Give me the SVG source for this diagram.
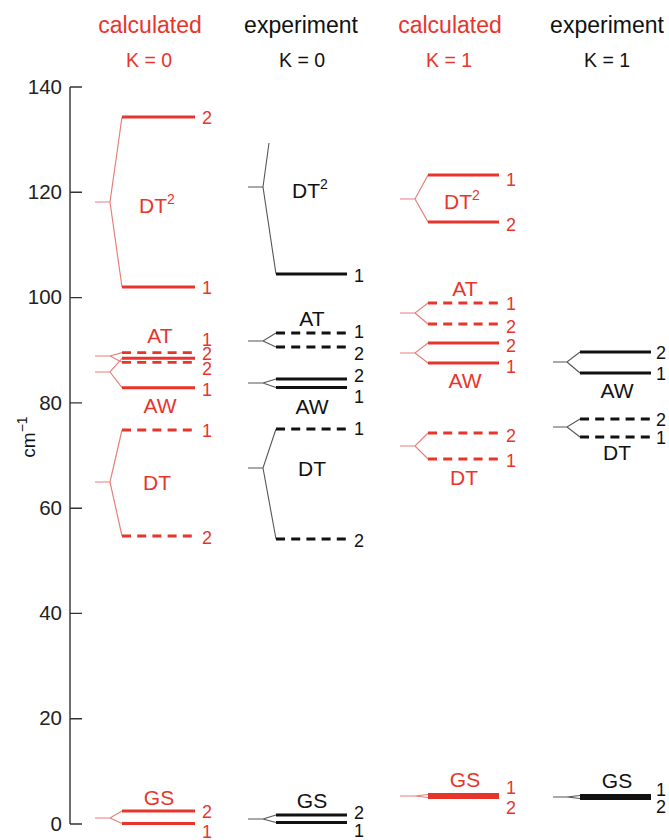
<svg xmlns="http://www.w3.org/2000/svg" width="669" height="840" viewBox="0 0 669 840">
  <style>
    text { font-family: "Liberation Sans", Arial, sans-serif; }
    .hdr { font-size: 23px; text-anchor: middle; }
    .k { font-size: 19.5px; text-anchor: middle; }
    .tick { font-size: 20.5px; text-anchor: end; fill: #222; }
    .st { font-size: 21px; text-anchor: middle; }
    .n { font-size: 18px; }
    .red { fill: #e8352c; }
    .blk { fill: #111; }
    .axis { stroke: #333; stroke-width: 1.4; fill: none; }
    .lvR { stroke: #e8352c; stroke-width: 3; fill: none; }
    .lvRd { stroke: #e8352c; stroke-width: 2.8; fill: none; stroke-dasharray: 9 6.2; }
    .lvB { stroke: #111; stroke-width: 3.2; fill: none; }
    .lvBd { stroke: #111; stroke-width: 2.8; fill: none; stroke-dasharray: 9 6.2; }
    .fanR { stroke: #e5807a; stroke-width: 1.2; fill: none; }
    .fanB { stroke: #555; stroke-width: 1.1; fill: none; }
  </style>

  <!-- column headings -->
  <g id="headings">
    <text class="hdr red" x="150" y="33">calculated</text>
    <text class="hdr blk" x="301" y="33">experiment</text>
    <text class="hdr red" x="450" y="33">calculated</text>
    <text class="hdr blk" x="607" y="33">experiment</text>
    <text class="k red" x="149" y="67">K = 0</text>
    <text class="k blk" x="302" y="67">K = 0</text>
    <text class="k red" x="449" y="67">K = 1</text>
    <text class="k blk" x="607" y="67">K = 1</text>
  </g>

  <!-- energy axis: 0..140 cm-1 -->
  <g id="axis">
    <path class="axis" d="M70,87 V824 M70,87 H82 M70,192.3 H82 M70,297.6 H82 M70,402.9 H82 M70,508.2 H82 M70,613.4 H82 M70,718.7 H82 M70,824 H82"/>
    <text class="tick" x="62" y="94">140</text>
    <text class="tick" x="62" y="199">120</text>
    <text class="tick" x="62" y="304">100</text>
    <text class="tick" x="62" y="410">80</text>
    <text class="tick" x="62" y="515">60</text>
    <text class="tick" x="62" y="620">40</text>
    <text class="tick" x="62" y="725">20</text>
    <text class="tick" x="62" y="831">0</text>
    <text class="tick blk" style="text-anchor:middle;font-size:19px" transform="translate(35,437) rotate(-90)">cm<tspan dy="-8" font-size="14">−1</tspan></text>
  </g>

  <!-- connectors: splitting fans from each band origin to its levels -->
  <g id="connectors">
    <!-- calculated K=0 -->
    <path class="fanR" d="M95,202 H110 L122,117 M110,202 L122,287"/>
    <path class="fanR" d="M95,356 H110 L122,352.7 M110,356 L122,362.3"/>
    <path class="fanR" d="M95,372 H110 L122,358.3 M110,372 L122,387.7"/>
    <path class="fanR" d="M95,482 H110 L122,430 M110,482 L122,536"/>
    <path class="fanR" d="M95,818 H110 L122,811 M110,818 L122,823.5"/>
    <!-- experiment K=0 -->
    <path class="fanB" d="M248,187 H263 L269,143 M263,187 L276,274"/>
    <path class="fanB" d="M248,341 H263 L276,333 M263,341 L276,347"/>
    <path class="fanB" d="M248,383 H263 L276,379 M263,383 L276,387.5"/>
    <path class="fanB" d="M248,468 H263 L276,429 M263,468 L276,539"/>
    <path class="fanB" d="M248,819 H263 L276,815 M263,819 L276,822.5"/>
    <!-- calculated K=1 -->
    <path class="fanR" d="M400,199 H415 L428,175 M415,199 L428,222"/>
    <path class="fanR" d="M400,313 H415 L428,303 M415,313 L428,324"/>
    <path class="fanR" d="M400,353 H415 L428,343 M415,353 L428,363"/>
    <path class="fanR" d="M400,446 H415 L428,433 M415,446 L428,459"/>
    <path class="fanR" d="M400,796 H415 L428,794.5 M415,796 L428,797.5"/>
    <!-- experiment K=1 -->
    <path class="fanB" d="M553,362 H567 L580,352 M567,362 L580,373"/>
    <path class="fanB" d="M553,427 H567 L580,419 M567,427 L580,437"/>
    <path class="fanB" d="M553,797 H567 L580,795.5 M567,797 L580,798.5"/>
  </g>

  <!-- calculated K=0 -->
  <g id="calc-k0-dt2">
    <path class="lvR" d="M122,117 H195 M122,287 H195"/>
    <text class="st red" x="157" y="213">DT<tspan dy="-9" font-size="14">2</tspan></text>
    <text class="n red" x="202" y="124">2</text>
    <text class="n red" x="202" y="294">1</text>
  </g>
  <g id="calc-k0-at">
    <path class="lvRd" d="M122,352.7 H195 M122,362.3 H195"/>
    <text class="st red" x="160" y="343">AT</text>
    <text class="n red" x="202" y="346">1</text>
    <text class="n red" x="202" y="360">2</text>
  </g>
  <g id="calc-k0-aw">
    <path class="lvR" d="M122,358.3 H195 M122,387.7 H195"/>
    <text class="st red" x="160" y="413">AW</text>
    <text class="n red" x="202" y="375">2</text>
    <text class="n red" x="202" y="396">1</text>
  </g>
  <g id="calc-k0-dt">
    <path class="lvRd" d="M122,430 H195 M122,536 H195"/>
    <text class="st red" x="157" y="490">DT</text>
    <text class="n red" x="202" y="437">1</text>
    <text class="n red" x="202" y="544">2</text>
  </g>
  <g id="calc-k0-gs">
    <path class="lvR" d="M122,811 H195 M122,823.5 H195"/>
    <text class="st red" x="159" y="805">GS</text>
    <text class="n red" x="202" y="818">2</text>
    <text class="n red" x="202" y="838">1</text>
  </g>

  <!-- experiment K=0 -->
  <g id="exp-k0-dt2">
    <path class="lvB" d="M276,274 H347"/>
    <text class="st blk" x="310" y="198">DT<tspan dy="-9" font-size="14">2</tspan></text>
    <text class="n blk" x="354" y="282">1</text>
  </g>
  <g id="exp-k0-at">
    <path class="lvBd" d="M276,333 H347 M276,347 H347"/>
    <text class="st blk" x="312" y="326">AT</text>
    <text class="n blk" x="354" y="338">1</text>
    <text class="n blk" x="354" y="360">2</text>
  </g>
  <g id="exp-k0-aw">
    <path class="lvB" d="M276,379 H347 M276,387.5 H347"/>
    <text class="st blk" x="312" y="414">AW</text>
    <text class="n blk" x="354" y="382">2</text>
    <text class="n blk" x="354" y="403">1</text>
  </g>
  <g id="exp-k0-dt">
    <path class="lvBd" d="M276,429 H347 M276,539 H347"/>
    <text class="st blk" x="312" y="476">DT</text>
    <text class="n blk" x="354" y="435">1</text>
    <text class="n blk" x="354" y="547">2</text>
  </g>
  <g id="exp-k0-gs">
    <path class="lvB" d="M276,815 H347 M276,822.5 H347"/>
    <text class="st blk" x="312" y="808">GS</text>
    <text class="n blk" x="354" y="819">2</text>
    <text class="n blk" x="354" y="837">1</text>
  </g>

  <!-- calculated K=1 -->
  <g id="calc-k1-dt2">
    <path class="lvR" d="M428,175 H499 M428,222 H499"/>
    <text class="st red" x="462" y="209">DT<tspan dy="-9" font-size="14">2</tspan></text>
    <text class="n red" x="506" y="186">1</text>
    <text class="n red" x="506" y="231">2</text>
  </g>
  <g id="calc-k1-at">
    <path class="lvRd" d="M428,303 H499 M428,324 H499"/>
    <text class="st red" x="465" y="296">AT</text>
    <text class="n red" x="506" y="310">1</text>
    <text class="n red" x="506" y="333">2</text>
  </g>
  <g id="calc-k1-aw">
    <path class="lvR" d="M428,343 H499 M428,363 H499"/>
    <text class="st red" x="465" y="388">AW</text>
    <text class="n red" x="506" y="352">2</text>
    <text class="n red" x="506" y="373">1</text>
  </g>
  <g id="calc-k1-dt">
    <path class="lvRd" d="M428,433 H499 M428,459 H499"/>
    <text class="st red" x="464" y="485">DT</text>
    <text class="n red" x="506" y="442">2</text>
    <text class="n red" x="506" y="467">1</text>
  </g>
  <g id="calc-k1-gs">
    <path class="lvR" d="M428,794.5 H499 M428,797.5 H499"/>
    <text class="st red" x="465" y="787">GS</text>
    <text class="n red" x="506" y="794">1</text>
    <text class="n red" x="506" y="814">2</text>
  </g>

  <!-- experiment K=1 -->
  <g id="exp-k1-aw">
    <path class="lvB" d="M580,352 H651 M580,373 H651"/>
    <text class="st blk" x="617" y="398">AW</text>
    <text class="n blk" x="656" y="359">2</text>
    <text class="n blk" x="656" y="380">1</text>
  </g>
  <g id="exp-k1-dt">
    <path class="lvBd" d="M580,419 H651 M580,437 H651"/>
    <text class="st blk" x="617" y="460">DT</text>
    <text class="n blk" x="656" y="426">2</text>
    <text class="n blk" x="656" y="444">1</text>
  </g>
  <g id="exp-k1-gs">
    <path class="lvB" d="M580,795.5 H651 M580,798.5 H651"/>
    <text class="st blk" x="617" y="788">GS</text>
    <text class="n blk" x="656" y="796">1</text>
    <text class="n blk" x="656" y="813">2</text>
  </g>
</svg>
